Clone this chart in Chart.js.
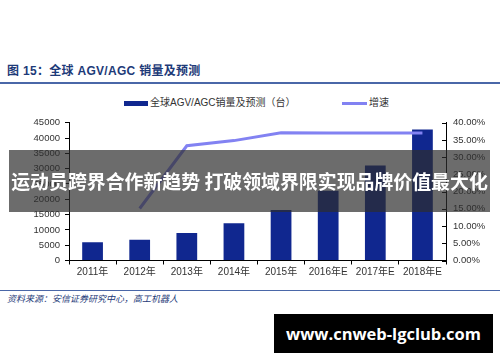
<!DOCTYPE html>
<html>
<head>
<meta charset="utf-8">
<script src="https://cdn.jsdelivr.net/npm/chart.js@4/dist/chart.umd.min.js"></script>
<style>
    body { margin: 0; width: 500px; height: 362px; background: #fff; position: relative; overflow: hidden;
           font-family: "Liberation Sans", "Noto Sans CJK SC", sans-serif; }
    .title { position: absolute; left: 7px; top: 61px; font-size: 12px; font-weight: bold; color: #1d3a78;
             font-family: "Liberation Sans", "Noto Sans CJK SC", sans-serif; letter-spacing: 0.3px; }
    .title-rule { position: absolute; left: 0; top: 82px; width: 500px; height: 2px; background: #4a67a8; }
    .legend { position: absolute; top: 94px; font-size: 10px; color: #333; white-space: nowrap; }
    .legend .swatch { display: inline-block; vertical-align: middle; margin-right: 2px; }
    .source-rule { position: absolute; left: 0; top: 290px; width: 500px; height: 1px; background: #4a67a8; }
    .source { position: absolute; left: 7px; top: 292px; font-size: 9px; font-style: italic; color: #1d3a78; }
    #chartWrap { position: absolute; left: 0; top: 110px; width: 500px; height: 175px; }
    .banner { position: absolute; left: 9px; top: 150px; width: 481px; height: 62px; background: rgba(45,45,45,0.7);
              color: #fff; font-family: "Noto Sans CJK SC", sans-serif; font-weight: bold; font-size: 18.9px;
              line-height: 62px; text-align: center; white-space: nowrap; }
    .mark { position: absolute; left: 274px; top: 314px; width: 219px; height: 39px; background: #000; color: #fff;
            font-family: "Open Sans", sans-serif; font-weight: bold; font-size: 16.5px; line-height: 39px; text-align: center; }
</style>
</head>
<body>
<div class="title">图 15：全球 AGV/AGC 销量及预测</div>
<div class="title-rule"></div>

<div class="legend" style="left:124px;"><span class="swatch" style="width:24px;height:5px;background:#10278f;"></span>全球AGV/AGC销量及预测（台）</div>
<div class="legend" style="left:342px;"><span class="swatch" style="width:25px;height:3px;background:#8282f2;"></span>增速</div>

<div id="chartWrap"><canvas id="chart" width="500" height="175"></canvas></div>

<div class="source-rule"></div>
<div class="source">资料来源：安信证券研究中心，高工机器人</div>

<div class="banner">运动员跨界合作新趋势 打破领域界限实现品牌价值最大化</div>
<div class="mark">www.cnweb-lgclub.com</div>

<script>
const years = ["2011年", "2012年", "2013年", "2014年", "2015年", "2016年E", "2017年E", "2018年E"];
const salesUnits = [6000, 6800, 9000, 12200, 16500, 22800, 31000, 42800];
const growthPct = [null, 15.1, 33.3, 34.8, 37.1, 37.0, 37.0, 37.0];

const axisFont = { family: "Liberation Sans, Noto Sans CJK SC, sans-serif", size: 9.5 };

// right axis draws its ticks on the inside of the line
const innerTicks = {
    id: "innerTicks",
    afterDraw(chart) {
        const scale = chart.scales.y1;
        const ctx = chart.ctx;
        ctx.save();
        ctx.strokeStyle = "#000";
        ctx.lineWidth = 1;
        scale.ticks.forEach((t) => {
            const y = Math.round(scale.getPixelForValue(t.value)) + 0.5;
            ctx.beginPath();
            ctx.moveTo(scale.left - 4, y);
            ctx.lineTo(scale.left, y);
            ctx.stroke();
        });
        ctx.restore();
    }
};

new Chart(document.getElementById("chart"), {
    data: {
        labels: years,
        datasets: [
            {
                type: "line",
                label: "增速",
                data: growthPct,
                yAxisID: "y1",
                borderColor: "#8282f2",
                borderWidth: 3,
                pointRadius: 0,
                tension: 0,
                order: 0
            },
            {
                type: "bar",
                label: "全球AGV/AGC销量及预测（台）",
                data: salesUnits,
                yAxisID: "y",
                backgroundColor: "#10278f",
                categoryPercentage: 0.88,
                barPercentage: 0.5,
                order: 1
            }
        ]
    },
    options: {
        responsive: false,
        animation: false,
        layout: { padding: { top: 8 } },
        plugins: { legend: { display: false }, tooltip: { enabled: false } },
        scales: {
            x: {
                afterFit: (s) => { s.height = 24.5; },
                grid: { drawOnChartArea: false, offset: true, tickLength: 4, color: "#000" },
                border: { color: "#000" },
                ticks: { font: { ...axisFont, size: 10 }, color: "#333", padding: 2, maxRotation: 0 }
            },
            y: {
                position: "left",
                min: 0,
                max: 45000,
                afterFit: (s) => { s.width = 69; },
                grid: { drawOnChartArea: false, tickLength: 4, color: "#000" },
                border: { color: "#000" },
                ticks: { stepSize: 5000, font: axisFont, color: "#333", padding: 5, callback: (v) => String(v) }
            },
            y1: {
                position: "right",
                min: 0,
                max: 40,
                afterFit: (s) => { s.width = 54; },
                grid: { drawOnChartArea: false, drawTicks: false },
                border: { color: "#000" },
                ticks: { stepSize: 5, font: axisFont, color: "#333", padding: 7, callback: (v) => v.toFixed(2) + "%" }
            }
        }
    },
    plugins: [innerTicks]
});
</script>
</body>
</html>
